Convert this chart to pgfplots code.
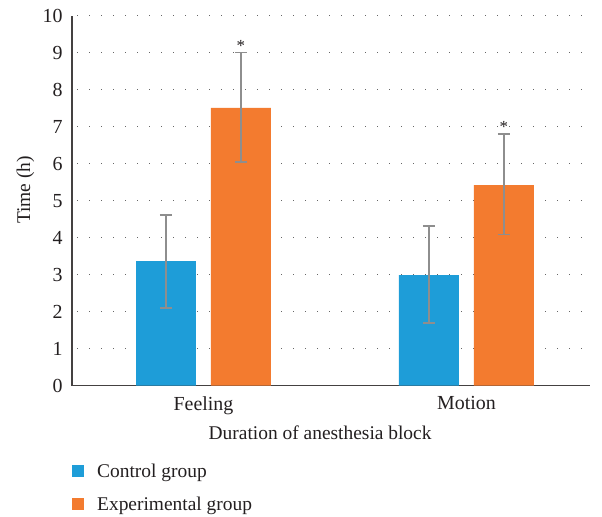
\documentclass[border=0pt]{standalone}
\usepackage{pgfplots}
\pgfplotsset{compat=1.18}
\usepackage{fontspec}
\setmainfont{Liberation Serif}
\definecolor{cblue}{HTML}{1E9DD8}
\definecolor{corange}{HTML}{F37B2F}
\definecolor{errgray}{HTML}{8E8E8E}
\definecolor{txt}{HTML}{231F20}
\begin{document}
\begin{tikzpicture}
\begin{axis}[
  at={(72bp,131.3bp)}, anchor=south west,
  scale only axis, width=518bp, height=370bp,
  xmin=-0.5, xmax=1.47, ymin=0, ymax=10,
  axis lines*=left,
  axis line style={draw=txt!85, line width=1.1bp},
  xtick={0,1}, xticklabels={Feeling,Motion},
  ytick={0,1,...,10},
  major tick length=0pt,
  ymajorgrids,
  major grid style={draw=black!60, line width=1.2bp, dash pattern=on 1.2bp off 10.8bp, dash phase=-5bp},
  tick label style={font=\fontsize{20}{23}\selectfont, text=txt},
  /pgf/number format/assume math mode=true,
  yticklabel style={xshift=-6bp},
  xticklabel style={yshift=-7bp},
  label style={font=\fontsize{19.5}{23}\selectfont, text=txt},
  xlabel={Duration of anesthesia block},
  x label style={at={(axis description cs:0.479,0)}, anchor=north, yshift=-37bp},
  ylabel={Time (h)},
  y label style={at={(axis description cs:-0.09,0.529)}, anchor=center},
  legend style={at={(0,-0.205)}, anchor=north west, draw=none, fill=none,
    font=\fontsize{19.5}{23}\selectfont, text=txt, inner sep=0pt, row sep=14bp,
    /tikz/every even column/.append style={column sep=0bp}},
  legend cell align=left,
  legend image code/.code={\fill[#1] (0bp,-6bp) rectangle (12bp,6bp);},
  error bars/y dir=both, error bars/y explicit,
  error bars/error bar style={draw=errgray, line width=1.5bp},
  error bars/error mark options={draw=errgray, line width=1.5bp, mark size=6bp, rotate=90},
]
\addplot[ybar, bar width=0.228, bar shift=0pt, fill=cblue, draw=none]
  coordinates {(-0.1426,3.37) += (0,1.25) -= (0,1.27)
               (0.8574,2.99) += (0,1.33) -= (0,1.30)};
\addlegendentry{\hspace{11bp}Control group}
\addplot[ybar, bar width=0.228, bar shift=0pt, fill=corange, draw=none]
  coordinates {(0.1426,7.51) += (0,1.49) -= (0,1.46)
               (1.1426,5.42) += (0,1.38) -= (0,1.34)};
\addlegendentry{\hspace{11bp}Experimental group}
\addplot[forget plot, draw=none, mark=none, nodes near coords={*},
  every node near coord/.append style={font=\fontsize{17}{20}\selectfont, text=txt, anchor=south, inner sep=0pt, yshift=1bp}]
  coordinates {(0.1426,9.0) (1.1426,6.80)};
\end{axis}
\pgfresetboundingbox
\useasboundingbox (0,0) rectangle (602bp,517bp);
\end{tikzpicture}
\end{document}
